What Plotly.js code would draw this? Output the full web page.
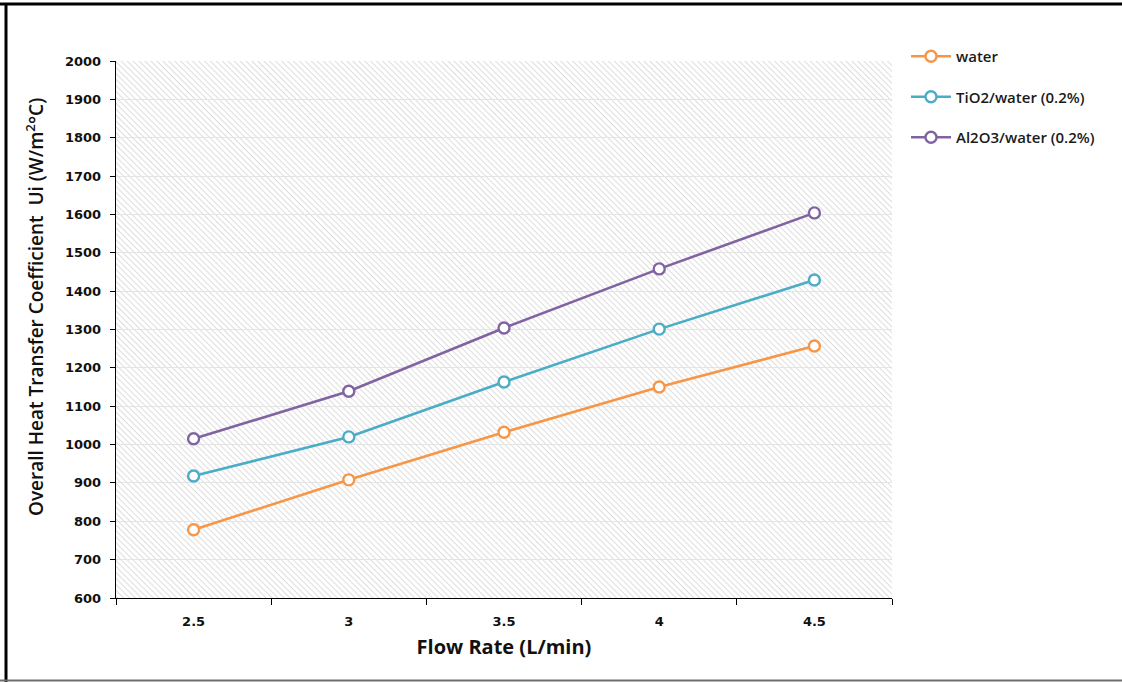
<!DOCTYPE html>
<html>
<head>
<meta charset="utf-8">
<script src="https://cdn.plot.ly/plotly-3.0.1.min.js"></script>
<style>
  html, body { margin: 0; padding: 0; background: #ffffff; overflow: hidden; }
  #chart { width: 1122px; height: 682px; }
</style>
</head>
<body>
<div id="chart"></div>
<script>
// Flow rate categories (L/min)
const flowRates = ['2.5', '3', '3.5', '4', '4.5'];

// Overall heat transfer coefficient Ui (W/m²°C)
const water      = [778, 908, 1032, 1150, 1257];
const tio2Water  = [918, 1020, 1163, 1301, 1429];
const al2o3Water = [1015, 1139, 1304, 1458, 1604];

const seriesNames  = ['water', 'TiO2/water (0.2%)', 'Al2O3/water (0.2%)'];
const seriesColors = ['#F79646', '#4BACC6', '#8064A2'];

const yTitleText = 'Overall Heat Transfer Coefficient  Ui (W/m<sup>2</sup>°C)';
const xTitleText = 'Flow Rate (L/min)';

const W = 1122, H = 682;
const M = { l: 116, r: 230, t: 61, b: 84 };
const plotW = W - M.l - M.r, plotH = H - M.t - M.b;

// paper-coordinate helpers for the outer frame and side title
const px2x = p => (p - M.l) / plotW;
const px2y = p => (H - M.b - p) / plotH;

// diagonal hatch used as the plot-area background
const hatchSvg =
  "<svg xmlns='http://www.w3.org/2000/svg' width='" + plotW + "' height='" + plotH + "'>" +
  "<defs><pattern id='h' width='4.2' height='4.2' patternUnits='userSpaceOnUse' patternTransform='rotate(45)'>" +
  "<line x1='0' y1='0.5' x2='4.2' y2='0.5' stroke='#dcdcdc' stroke-width='1'/></pattern></defs>" +
  "<rect width='100%' height='100%' fill='#ffffff'/>" +
  "<rect width='100%' height='100%' fill='url(#h)'/></svg>";
const hatchSrc = 'data:image/svg+xml;charset=utf-8,' + encodeURIComponent(hatchSvg);

const FONT = 'Open Sans, Lato, sans-serif';
const TICK_FONT = 'DejaVu Sans, Open Sans, sans-serif';

const seriesValues = [water, tio2Water, al2o3Water];
const traces = seriesValues.map((vals, i) => ({
  type: 'scatter',
  mode: 'lines+markers',
  name: seriesNames[i],
  legendgroup: 'g' + i,
  x: flowRates,
  y: vals,
  line: { color: seriesColors[i], width: 2.6 },
  marker: { symbol: 'circle', size: 11, color: '#ffffff',
            line: { color: seriesColors[i], width: 2.4 } },
  hoverinfo: 'x+y+name'
}));

const layout = {
  width: W, height: H,
  margin: M,
  paper_bgcolor: '#ffffff',
  plot_bgcolor: 'rgba(0,0,0,0)',
  font: { family: FONT, color: '#1a1a1a' },
  showlegend: true,
  legend: {
    x: px2x(906), y: px2y(40), xanchor: 'left', yanchor: 'top',
    bgcolor: 'rgba(0,0,0,0)',
    font: { family: FONT, size: 15, color: '#1a1a1a', weight: 600 },
    tracegroupgap: 18,
    itemwidth: 40
  },
  xaxis: {
    type: 'category',
    categoryorder: 'array', categoryarray: flowRates,
    range: [-0.5, flowRates.length - 0.5],
    tickson: 'boundaries',
    ticks: 'outside', ticklen: 6, tickwidth: 1, tickcolor: '#000000',
    ticklabelstandoff: 11,
    showline: true, linecolor: '#000000', linewidth: 1.3,
    showgrid: false, zeroline: false,
    tickfont: { family: TICK_FONT, size: 13, color: '#111111', weight: 700 },
    title: { text: xTitleText, standoff: 12,
             font: { family: FONT, size: 20, color: '#111111', weight: 700 } },
    fixedrange: true
  },
  yaxis: {
    range: [600, 2000],
    dtick: 100,
    ticks: 'outside', ticklen: 5, tickwidth: 1, tickcolor: '#000000',
    ticklabelstandoff: 6,
    showline: true, linecolor: '#000000', linewidth: 1.3,
    showgrid: true, gridcolor: '#e4e4e4', gridwidth: 1,
    zeroline: false,
    tickfont: { family: TICK_FONT, size: 13, color: '#111111', weight: 700 },
    title: { text: '' },
    fixedrange: true
  },
  annotations: [{
    // vertical axis title, set slightly above the plot's midline
    text: yTitleText,
    xref: 'paper', yref: 'paper',
    x: px2x(35), y: px2y(307),
    xanchor: 'center', yanchor: 'middle',
    textangle: -90, showarrow: false,
    font: { family: FONT, size: 19, color: '#111111', weight: 600 }
  }],
  images: [{
    source: hatchSrc,
    xref: 'paper', yref: 'paper',
    x: 0, y: 1, sizex: 1, sizey: 1,
    xanchor: 'left', yanchor: 'top',
    sizing: 'stretch', layer: 'below'
  }],
  shapes: [
    // keep the right edge of the frame open
    { type: 'rect', xref: 'paper', yref: 'paper', layer: 'above',
      x0: px2x(W - 8), x1: px2x(W + 2), y0: px2y(6), y1: px2y(678),
      fillcolor: '#ffffff', line: { width: 0 } },
    { type: 'line', xref: 'paper', yref: 'paper', layer: 'above',
      x0: px2x(0), x1: px2x(W), y0: px2y(4), y1: px2y(4),
      line: { color: '#000000', width: 3 } },
    { type: 'line', xref: 'paper', yref: 'paper', layer: 'above',
      x0: px2x(6), x1: px2x(6), y0: px2y(3), y1: px2y(H),
      line: { color: '#000000', width: 3 } },
    { type: 'line', xref: 'paper', yref: 'paper', layer: 'above',
      x0: px2x(0), x1: px2x(W), y0: px2y(680.5), y1: px2y(680.5),
      line: { color: '#6e6e6e', width: 2 } }
  ]
};

Plotly.newPlot('chart', traces, layout, { displayModeBar: false, staticPlot: true });
</script>
</body>
</html>
